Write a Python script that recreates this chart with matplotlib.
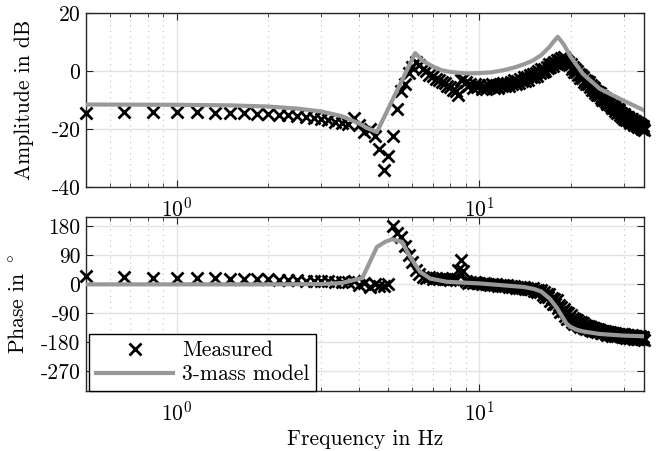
import numpy as np
import matplotlib
matplotlib.use("Agg")
import matplotlib.pyplot as plt
from matplotlib.ticker import FixedLocator, FixedFormatter, LogLocator, NullFormatter

plt.rcParams['font.family'] = ['cmr10', 'DejaVu Serif']
plt.rcParams['mathtext.fontset'] = 'cm'
plt.rcParams['axes.formatter.use_mathtext'] = True
plt.rcParams['axes.unicode_minus'] = False

# ---------------- data ----------------
# measured frequency grid (resolution 1/6 Hz, 0.5 ... 35 Hz)
meas_freq = 0.5 + np.arange(208) / 6.0

meas_amp = [
    -14.5, -14.1, -14.1, -14.2, -14.2, -14.3, -14.4, -14.5, -14.7, -14.8,
    -15.0, -15.2, -15.5, -15.8, -16.1, -16.5, -17.0, -17.4, -17.8, -18.2,
    -16.0, -18.5, -21.0, -20.0, -22.2, -26.8, -34.2, -29.1, -22.2, -13.0,
    -6.7, -4.3, -0.5, 1.5, 3.1, 2.0, 0.6, 0.0, -1.2, -1.6,
    -2.6, -2.9, -3.9, -4.2, -5.2, -5.4, -6.5, -6.8, -8.2, -3.0,
    -2.6,
    -3.8, -5.25, -4.5, -5.75, -4.6, -5.45,
    -4.7, -6.0, -5.1, -6.2, -4.8, -5.5,
    -4.6, -5.8, -4.8, -5.9, -4.5, -5.1,
    -4.1, -5.3, -4.2, -5.2, -3.7, -4.3,
    -3.2, -4.3, -3.3, -4.2, -2.7, -3.3,
    -2.2, -3.3, -2.2, -3.1, -1.5, -2.0,
    -0.9, -2.0, -0.8, -1.7, -0.1, -0.6,
    0.6, -0.4, 0.8, -0.1, 1.5, 1.1,
    2.3, 1.3, 2.4, 1.6, 3.2, 2.7,
    3.9, 2.8, 3.9, 3.0, 4.4, 3.9,
    5.0, 3.3, 3.8, 2.3, 3.1, 2.0,
    2.5, 0.8, 1.3, -0.2, 0.8, -0.3,
    0.2, -1.5, -0.9, -2.4, -1.5, -2.5,
    -2.0, -3.6, -3.0, -4.5, -3.5, -4.5,
    -3.9, -5.5, -4.9, -6.4, -5.4, -6.4,
    -5.8, -7.4, -6.8, -8.3, -7.3, -8.3,
    -7.7, -9.3, -8.6, -10.0, -8.9, -9.9,
    -9.2, -10.7, -10.1, -11.4, -10.3, -11.3,
    -10.6, -12.1, -11.5, -12.8, -11.7, -12.7,
    -12.0, -13.6, -12.9, -14.3, -13.2, -14.2,
    -13.5, -15.0, -14.4, -15.7, -14.6, -15.6,
    -14.9, -16.4, -15.6, -16.9, -15.7, -16.6,
    -15.8, -17.2, -16.5, -17.7, -16.5, -17.4,
    -16.6, -18.0, -17.3, -18.5, -17.3, -18.2,
    -17.4, -18.8, -18.0, -19.3, -18.1, -18.9,
    -18.1, -19.5, -18.7, -20.0, -18.8, -19.6,
    -20.2,
]

meas_phase = [
    25, 22, 21, 20, 19, 19, 18, 17, 17, 16,
    15, 14, 13, 12, 11, 10, 9, 8, 7, 6,
    10, -3, 5, -8, 2, -6, -5, 0, 180, 160,
    148, 118, 92, 68, 46, 32, 24, 20, 22, 18,
    20, 17, 19, 16, 18, 15, 17, 14, 45, 75,
    40,
    10, 5, 7, 4, 6, 3,
    5, 1, 3, 0, 2, -1,
    2, -3, 0, -4, -1, -4,
    -1, -6, -3, -7, -5, -8,
    -5, -10, -7, -11, -9, -11,
    -9, -14, -11, -15, -13, -15,
    -12, -20, -16, -24, -18, -24,
    -18, -33, -25, -40, -30, -40,
    -30, -52, -42, -62, -45, -60,
    -50, -73, -63, -85, -69, -84,
    -75, -97, -87, -107, -90, -105,
    -95, -116, -104, -124, -106, -119,
    -110, -127, -117, -131, -118, -128,
    -121, -134, -126, -138, -128, -135,
    -128, -141, -133, -144, -134, -141,
    -136, -145, -140, -148, -140, -145,
    -141, -150, -144, -152, -145, -149,
    -145, -154, -148, -156, -148, -153,
    -148, -157, -151, -159, -151, -156,
    -151, -159, -154, -161, -153, -158,
    -153, -161, -156, -163, -155, -160,
    -155, -163, -158, -165, -157, -162,
    -157, -165, -159, -167, -159, -163,
    -158, -166, -161, -168, -160, -165,
    -160, -168, -162, -170, -162, -166,
    -161, -169, -164, -171, -163, -168,
    -172,
]

model_amp_freq = [0.5, 1.0, 1.5, 2.0, 2.5, 3.0, 3.5, 4.0, 4.25, 4.58, 6.13, 6.5, 7.0, 7.5,
                  8.0, 9.0, 10.0, 11.0, 12.0, 13.0, 14.0, 15.0, 16.0, 17.0, 17.6, 18.15,
                  19.0, 20.0, 22.0, 25.0, 30.0, 35.0]
model_amp = [-11.5, -11.6, -11.8, -12.2, -12.9, -13.9, -15.5, -18.0, -19.6, -21.0, 6.2, 3.5,
             1.6, 0.3, -0.3, -0.8, -0.7, -0.4, 0.3, 1.2, 2.3, 3.6, 5.5, 8.2, 10.2, 11.8,
             9.2, 5.0, -1.0, -6.1, -10.2, -13.5]

model_phase_freq = [0.5, 1, 2, 3, 3.5, 4.1, 4.58, 4.88, 5.13, 5.54, 5.9, 6.36, 6.87, 7.8,
                    10, 12, 14, 15.1, 16, 17.1, 18, 18.5, 19.4, 20, 21, 22, 25, 30, 35]
model_phase = [0, 0, 0, 1, 4, 20, 116, 132, 140, 132, 85, 39, 18, 8,
               3, -3, -8, -14, -22, -45, -72, -90, -122, -132, -141, -146, -154, -159, -161]

amp_ticks = [-40, -20, 0, 20]
amp_ticklabels = ['-40', '-20', '0', '20']
phase_ticks = [-270, -180, -90, 0, 90, 180]
phase_ticklabels = ['-270', '-180', '-90', '0', '90', '180']

# ---------------- figure ----------------
fig = plt.figure(figsize=(6.61, 4.51), dpi=100)
ax1 = fig.add_axes([0.1301, 0.5847, 0.8442, 0.3865])
ax2 = fig.add_axes([0.1301, 0.1337, 0.8442, 0.3858])

FS = 15.5
GRAY = '#999999'
SPINE = '#262626'
MS = 8.0
MEW = 2.0

ax1.plot(meas_freq, meas_amp, 'x', color='k', ms=MS, mew=MEW, clip_on=False, zorder=3)
ax1.plot(model_amp_freq, model_amp, '-', color=GRAY, lw=3.0, zorder=4)
ax2.plot(meas_freq, meas_phase, 'x', color='k', ms=MS, mew=MEW, clip_on=False, zorder=3,
         label='Measured')
ax2.plot(model_phase_freq, model_phase, '-', color=GRAY, lw=3.0, zorder=4,
         label='3-mass model')

for ax in (ax1, ax2):
    ax.set_xscale('log')
    ax.set_xlim(0.5, 35)
    ax.xaxis.set_major_locator(LogLocator(base=10, numticks=10))
    ax.xaxis.set_minor_locator(LogLocator(base=10, subs=np.arange(2, 10), numticks=20))
    ax.xaxis.set_minor_formatter(NullFormatter())
    ax.tick_params(which='both', direction='in', top=True, right=True,
                   labelsize=FS, color=SPINE)
    ax.tick_params(axis='x', which='major', pad=7)
    ax.tick_params(axis='y', which='major', pad=4)
    ax.tick_params(which='major', length=5, width=0.8)
    ax.tick_params(which='minor', length=3, width=0.6)
    ax.grid(True, which='major', color='#e3e3e3', lw=1.0, ls='-')
    ax.grid(True, which='minor', axis='x', color='#bdbdbd', lw=0.8, ls=(0, (1, 4)))
    ax.set_axisbelow(True)
    for s in ax.spines.values():
        s.set_color(SPINE)
        s.set_linewidth(1.0)

ax1.set_ylim(-40, 20)
ax1.yaxis.set_major_locator(FixedLocator(amp_ticks))
ax1.yaxis.set_major_formatter(FixedFormatter(amp_ticklabels))
ax1.set_ylabel('Amplitude in dB', fontsize=FS)

ax2.set_ylim(-330, 210)
ax2.yaxis.set_major_locator(FixedLocator(phase_ticks))
ax2.yaxis.set_major_formatter(FixedFormatter(phase_ticklabels))
ax2.set_ylabel(r'Phase in $^\circ$', fontsize=FS)
ax2.set_xlabel('Frequency in Hz', fontsize=FS)

ax1.yaxis.set_label_coords(-0.093, 0.5)
ax2.yaxis.set_label_coords(-0.104, 0.5)

leg = ax2.legend(loc='lower left', bbox_to_anchor=(0.006, 0.0), borderaxespad=0.0,
                 fontsize=FS, frameon=True, fancybox=False, framealpha=1.0,
                 edgecolor='k', handlelength=3.6, handletextpad=0.4,
                 borderpad=0.3, labelspacing=0.2, markerscale=1.0)
leg.get_frame().set_linewidth(1.0)
leg.set_zorder(10)

fig.savefig('out.png', dpi=100)
